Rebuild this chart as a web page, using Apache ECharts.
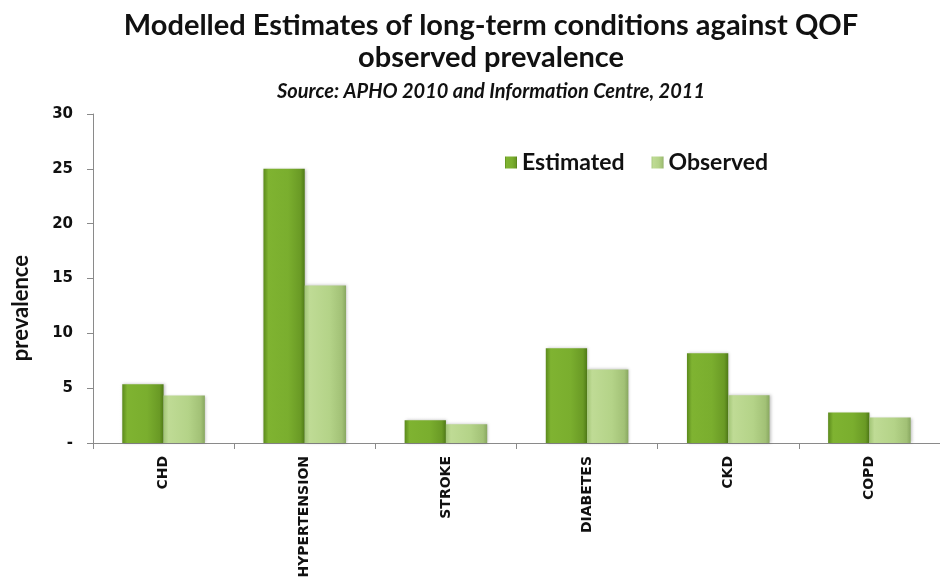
<!DOCTYPE html>
<html>
<head>
<meta charset="utf-8">
<script src="https://cdn.jsdelivr.net/npm/echarts@6/dist/echarts.min.js"></script>
<style>html,body{margin:0;padding:0;background:#fff}#c{width:940px;height:585px}</style>
</head>
<body>
<div id="c"></div>
<script>
var categories = ['CHD', 'HYPERTENSION', 'STROKE', 'DIABETES', 'CKD', 'COPD'];
var estimated = [5.35, 25.0, 2.07, 8.65, 8.18, 2.78];
var observed = [4.32, 14.37, 1.70, 6.71, 4.35, 2.32];
var yTicks = [0, 5, 10, 15, 20, 25, 30];

var chart = echarts.init(document.getElementById('c'));
function grad(stops) {
  return new echarts.graphic.LinearGradient(0, 0, 1, 0, stops.map(function (s) { return { offset: s[0], color: s[1] }; }));
}
var estColor = grad([[0, '#5b8a1c'], [0.12, '#7fb331'], [0.6, '#7aae2e'], [0.9, '#6a9a25'], [1, '#4f7a17']]);
var obsColor = grad([[0, '#a2c576'], [0.12, '#bfdb95'], [0.6, '#b4d388'], [0.9, '#a2c176'], [1, '#88a760']]);

chart.setOption({
  backgroundColor: '#fff',
  animation: false,
  title: [{
    text: 'Modelled Estimates of long-term conditions against QOF\nobserved prevalence',
    left: 486, top: 5, textAlign: 'center',
    textStyle: { fontFamily: 'Lato', fontWeight: 'bold', fontSize: 29, lineHeight: 32, color: '#111' }
  }, {
    text: 'Source: APHO 2010 and Information Centre, 2011',
    left: 486, top: 77, textAlign: 'center',
    textStyle: { fontFamily: 'Lato', fontWeight: 'bold', fontStyle: 'italic', fontSize: 20, color: '#111' }
  }],
  legend: {
    left: 500, top: 146,
    itemWidth: 12, itemHeight: 12, itemGap: 27,
    icon: 'rect',
    textStyle: { fontFamily: 'Lato', fontWeight: 'bold', fontSize: 23, color: '#111' },
    data: ['Estimated', 'Observed']
  },
  grid: { left: 93, right: -5, top: 114, bottom: 142, containLabel: false },
  xAxis: {
    type: 'category',
    data: categories,
    boundaryGap: true,
    axisLine: { lineStyle: { color: '#8a8a8a', width: 1 } },
    axisTick: { show: true, length: 6, interval: 0, lineStyle: { color: '#8a8a8a' } },
    axisLabel: { rotate: 90, interval: 0, margin: 13, fontFamily: 'DejaVu Sans', fontWeight: 'bold', fontSize: 14, color: '#111' }
  },
  yAxis: {
    type: 'value',
    min: 0, max: 30, interval: 5,
    splitLine: { show: false },
    axisLine: { show: true, lineStyle: { color: '#8a8a8a', width: 1 } },
    axisTick: { show: true, length: 6, lineStyle: { color: '#8a8a8a' } },
    axisLabel: {
      margin: 20, fontFamily: 'DejaVu Sans', fontWeight: 'bold', fontSize: 15, color: '#111',
      formatter: function (v) { return yTicks.indexOf(v) === 0 ? '-' : String(v); }
    }
  },
  graphic: [{
    type: 'text', left: 10, top: 255, rotation: Math.PI / 2,
    style: { text: 'prevalence', fontFamily: 'Lato', fontWeight: 'bold', fontSize: 22, fill: '#111' }
  }],
  series: [{
    name: 'Estimated', type: 'bar', data: estimated,
    barGap: '0%', barCategoryGap: '41.5%',
    itemStyle: { color: estColor, shadowColor: 'rgba(0,0,0,0.25)', shadowBlur: 3, shadowOffsetX: 1, shadowOffsetY: 0 }
  }, {
    name: 'Observed', type: 'bar', data: observed,
    barGap: '0%', barCategoryGap: '41.5%',
    itemStyle: { color: obsColor, shadowColor: 'rgba(0,0,0,0.25)', shadowBlur: 3, shadowOffsetX: 1, shadowOffsetY: 0 }
  }]
});
</script>
</body>
</html>
